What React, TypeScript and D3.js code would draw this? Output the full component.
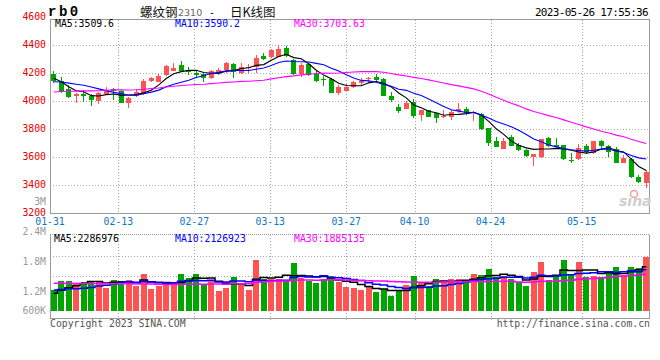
import React from 'react';
import * as d3 from 'd3';

// ---------- data ----------
const dates = [
  '01-31',
  '02-01','02-02','02-03','02-06','02-07','02-08','02-09','02-10','02-13','02-14','02-15','02-16','02-17','02-20','02-21','02-22','02-23','02-24','02-27','02-28',
  '03-01','03-02','03-03','03-06','03-07','03-08','03-09','03-10','03-13','03-14','03-15','03-16','03-17','03-20','03-21','03-22','03-23','03-24','03-27','03-28','03-29','03-30','03-31',
  '04-03','04-04','04-06','04-07','04-10','04-11','04-12','04-13','04-14','04-17','04-18','04-19','04-20','04-21','04-24','04-25','04-26','04-27','04-28',
  '05-04','05-05','05-08','05-09','05-10','05-11','05-12','05-15','05-16','05-17','05-18','05-19','05-22','05-23','05-24','05-25','05-26',
];

const opens = [
  4196, 4149, 4089, 4041, 4053, 4039, 4006, 4051, 4087, 4075,
  3987, 4039, 4053, 4146, 4141, 4189, 4220, 4261, 4225, 4201,
  4194, 4170, 4194, 4225, 4266, 4201, 4237, 4249, 4327, 4316,
  4320, 4380, 4296, 4196, 4268, 4194, 4161, 4159, 4063, 4077,
  4106, 4134, 4163, 4173, 4159, 4039, 3963, 3946, 3999, 3904,
  3939, 3916, 3887, 3891, 3934, 3944, 3925, 3909, 3809, 3718,
  3661, 3744, 3689, 3654, 3606, 3606, 3737, 3689, 3689, 3584,
  3587, 3682, 3634, 3718, 3682, 3659, 3563, 3589, 3459, 3420,
];
const highs = [
  4220, 4173, 4118, 4058, 4082, 4051, 4070, 4104, 4094, 4082,
  4030, 4089, 4161, 4177, 4199, 4261, 4277, 4291, 4249, 4225,
  4206, 4225, 4239, 4280, 4273, 4277, 4268, 4330, 4349, 4373,
  4404, 4396, 4301, 4273, 4273, 4225, 4182, 4166, 4118, 4125,
  4149, 4166, 4177, 4194, 4166, 4066, 3982, 4004, 4016, 3942,
  3942, 3920, 3939, 3939, 3987, 3963, 3929, 3916, 3812, 3749,
  3737, 3761, 3701, 3661, 3628, 3732, 3749, 3737, 3692, 3630,
  3696, 3696, 3720, 3725, 3689, 3673, 3618, 3594, 3475, 3511,
];
const lows = [
  4134, 4059, 4023, 3991, 3999, 3970, 3982, 4046, 4011, 3987,
  3956, 4034, 4046, 4141, 4137, 4184, 4215, 4209, 4189, 4177,
  4141, 4159, 4190, 4201, 4170, 4196, 4206, 4201, 4296, 4309,
  4316, 4316, 4192, 4177, 4182, 4142, 4111, 4060, 4046, 4075,
  4094, 4118, 4130, 4149, 4038, 3999, 3920, 3944, 3880, 3863,
  3887, 3849, 3880, 3868, 3916, 3904, 3863, 3800, 3684, 3675,
  3659, 3680, 3650, 3606, 3537, 3599, 3677, 3675, 3582, 3559,
  3582, 3623, 3625, 3659, 3606, 3560, 3560, 3451, 3420, 3384,
];
const closes = [
  4149, 4070, 4034, 4053, 4041, 4011, 4059, 4082, 4075, 3991,
  4027, 4070, 4146, 4170, 4182, 4254, 4241, 4220, 4213, 4189,
  4170, 4218, 4225, 4277, 4213, 4244, 4244, 4313, 4304, 4368,
  4375, 4325, 4196, 4261, 4189, 4146, 4151, 4063, 4106, 4106,
  4139, 4149, 4166, 4154, 4041, 4011, 3934, 3991, 3899, 3939,
  3891, 3880, 3899, 3927, 3944, 3916, 3927, 3804, 3701, 3677,
  3718, 3684, 3654, 3611, 3625, 3730, 3682, 3677, 3589, 3580,
  3670, 3641, 3718, 3684, 3641, 3563, 3594, 3459, 3423, 3499,
];
// closes before 01-31 (read back from where the MA curves start)
const priorCloses = [
  3960, 3985, 4010, 3990, 4005, 4030, 3995, 3975, 4010, 4030,
  4020, 4045, 4030, 4060, 4050, 4075, 4060, 4100, 4090, 4095,
  4090, 4110, 4130, 4120, 4130, 4195, 4209, 4197, 4080,
];

const volumes = [
  1090, 1560, 1560, 1390, 1490, 1560, 1560, 1200, 1610, 1560,
  1610, 1300, 1920, 1130, 1300, 1460, 1460, 1920, 1720, 1920,
  1400, 1560, 1040, 1200, 1770, 1460, 1090, 2650, 1660, 1660,
  1660, 1610, 2500, 1720, 1540, 1460, 1660, 1820, 1490, 1250,
  1180, 1080, 1280, 970, 1130, 760, 1080, 1340, 1800, 1490,
  1280, 1650, 1490, 1650, 1650, 1490, 1910, 1860, 2170, 1750,
  1800, 1650, 1490, 1280, 2010, 2530, 1600, 1800, 2640, 1860,
  2530, 1750, 1800, 1750, 2010, 2270, 1860, 2270, 2220, 2810,
].map((v) => v * 1000);
// volumes before 01-31 (read back from where the volume MA curves start)
const priorVolumes = [
  1550, 1680, 1620, 1500, 1720, 1580, 1650, 1490, 1610, 1700,
  1560, 1630, 1540, 1680, 1600, 1520, 1660, 1590, 1640, 1570,
  1300, 1200, 1350, 1180, 1205, 800, 850, 880, 905,
].map((v) => v * 1000);

const xTickLabels = ['01-31', '02-13', '02-27', '03-13', '03-27', '04-10', '04-24', '05-15'];
const priceTicks = [4600, 4400, 4200, 4000, 3800, 3600, 3400, 3200];
const volumeTickLabels = ['3M', '2.4M', '1.8M', '1.2M', '600K'];
const priceMaLabels = ['MA5:3509.6', 'MA10:3590.2', 'MA30:3703.63'];
const volumeMaLabels = ['MA5:2286976', 'MA10:2126923', 'MA30:1885135'];
const maPeriods = [5, 10, 30];

// ---------- helpers ----------
function movingAverage(prior: number[], values: number[], n: number): number[] {
  const all = prior.concat(values);
  return values.map((_, i) => {
    const end = prior.length + i + 1;
    return d3.mean(all.slice(end - n, end)) as number;
  });
}

const MONO = "'DejaVu Sans Mono', monospace";
const RED = '#ff5353';
const GREEN = '#00a600';
const MA_COLORS = ['#000000', '#0000ff', '#ff00ff'];
const GRID = '#a8a8a8';
const AXIS = '#9a9a9a';

export default function App() {
  const n = dates.length;
  const L = 50;
  const R = 650;
  const x = d3.scaleBand<number>().domain(d3.range(n)).range([L, R]);
  const xg = d3.scalePoint<number>().domain(d3.range(n)).range([L, R]);
  const cx = (i: number) => (x(i) as number) + x.bandwidth() / 2;

  const yP = d3.scaleLinear().domain([3200, 4600]).range([213.5, 17.5]);
  const vBase = 310.7;
  const yV = d3.scaleLinear().domain([0, 4e6]).range([vBase, vBase - 4 * 19.23]);

  const priceTop = 19.5;
  const priceBottom = yP(3200);
  const volTop = 234.5;
  const volBottom = 318.5;

  const priceMAs = maPeriods.map((p) => movingAverage(priorCloses, closes, p));
  const volMAs = maPeriods.map((p) => movingAverage(priorVolumes, volumes, p));

  const priceLine = d3
    .line<number>()
    .x((_, i) => cx(i))
    .y((v) => yP(v));
  const volLine = d3
    .line<number>()
    .x((_, i) => cx(i))
    .y((v) => yV(v))
    .curve(d3.curveStep);

  const tickIdx = xTickLabels.map((t) => dates.indexOf(t));
  const volGridYs = [1, 2, 3].map((k) => Math.round(314.5 - k * 19.5) + 0.5);

  const up = (i: number) => closes[i] >= opens[i];

  return (
    <svg
      width={660}
      height={360}
      style={{ position: 'absolute', left: 0, top: 0, background: '#fff' }}
      fontFamily={MONO}
    >
      <rect x={0} y={0} width={660} height={360} fill="#fff" />

      {/* header */}
      <text x={48} y={16} fontFamily="'Liberation Mono', monospace" fontWeight="bold" fontSize={14} letterSpacing={2.5} fill="#000">
        rb0
      </text>
      <text x={140} y={17} fontFamily="'Noto Sans CJK SC', sans-serif" fontSize={12.5} fill="#111">
        螺纹钢
      </text>
      <text x={178} y={16} fontFamily="'DejaVu Sans', sans-serif" fontSize={9.5} fill="#666">
        2310
      </text>
      <text x={209} y={16} fontSize={10} fill="#111">
        -
      </text>
      <text x={230} y={17} fontFamily="'Noto Sans CJK SC', sans-serif" fontSize={12.5} fill="#111">
        日K线图
      </text>
      <text x={648} y={15.7} textAnchor="end" fontSize={11} letterSpacing={-0.67} fill="#000">
        2023-05-26 17:55:36
      </text>

      {/* price grid */}
      {priceTicks.slice(1, -1).map((p) => (
        <line key={'hp' + p} x1={L} x2={R} y1={yP(p)} y2={yP(p)} stroke={GRID} strokeDasharray="1 2" shapeRendering="crispEdges" />
      ))}
      {tickIdx.slice(1).map((i) => (
        <g key={'vg' + i}>
          <line x1={Math.round(xg(i) as number) + 0.5} x2={Math.round(xg(i) as number) + 0.5} y1={priceTop} y2={priceBottom} stroke={GRID} strokeDasharray="1 2" shapeRendering="crispEdges" />
          <line x1={Math.round(xg(i) as number) + 0.5} x2={Math.round(xg(i) as number) + 0.5} y1={volTop} y2={321} stroke={GRID} strokeDasharray="1 2" shapeRendering="crispEdges" />
        </g>
      ))}

      {/* price frame */}
      <line x1={L} x2={R} y1={priceTop} y2={priceTop} stroke={AXIS} shapeRendering="crispEdges" />
      <line x1={L + 0.5} x2={L + 0.5} y1={priceTop} y2={priceBottom} stroke={AXIS} shapeRendering="crispEdges" />
      <line x1={R - 0.5} x2={R - 0.5} y1={priceTop} y2={priceBottom} stroke={AXIS} shapeRendering="crispEdges" />
      <line x1={L} x2={R} y1={priceBottom} y2={priceBottom} stroke={AXIS} shapeRendering="crispEdges" />

      {/* watermark */}
      <circle cx={634} cy={194} r={3.5} fill="none" stroke="#f2a0a0" strokeWidth={1.6} />
      <text x={619} y={206} fontFamily="'DejaVu Sans', sans-serif" fontStyle="italic" fontWeight="bold" fontSize={14} fill="#cfcfcf">
        sina
      </text>

      {/* price legend */}
      {priceMaLabels.map((t, k) => (
        <text key={t} x={[55, 175, 294][k]} y={27.3} fontSize={9.8} fill={MA_COLORS[k]}>
          {t}
        </text>
      ))}

      {/* candles */}
      {closes.map((c, i) => {
        const o = opens[i];
        const col = up(i) ? RED : GREEN;
        const xc = Math.floor(cx(i)) + 0.5;
        const top = Math.round(yP(Math.max(o, c)));
        const bot = Math.round(yP(Math.min(o, c)));
        return (
          <g key={'c' + i}>
            <line x1={xc} x2={xc} y1={yP(highs[i])} y2={yP(lows[i])} stroke={col} shapeRendering="crispEdges" />
            <rect x={xc - 2.5} y={top} width={5} height={Math.max(1, bot - top)} fill={col} shapeRendering="crispEdges" />
          </g>
        );
      })}

      {/* price MAs */}
      {priceMAs.map((m, k) => (
        <path key={'pm' + k} d={priceLine(m) as string} fill="none" stroke={MA_COLORS[k]} strokeWidth={1.1} />
      ))}

      {/* price axis labels */}
      {priceTicks.map((p) => (
        <text key={'pt' + p} x={46} y={yP(p) + 2.5} textAnchor="end" fontSize={9.8} fill="#e60000">
          {p}
        </text>
      ))}

      {/* x labels */}
      {tickIdx.map((i, k) => (
        <text key={'xl' + i} x={xg(i) as number} y={225.3} textAnchor="middle" fontSize={9.8} fill="#0a78c8">
          {xTickLabels[k]}
        </text>
      ))}

      {/* volume grid + frame */}
      {volGridYs.map((y) => (
        <line key={'vgh' + y} x1={L} x2={R} y1={y} y2={y} stroke={GRID} strokeDasharray="1 2" shapeRendering="crispEdges" />
      ))}
      <line x1={L} x2={R} y1={volTop} y2={volTop} stroke={AXIS} strokeDasharray="1 1" shapeRendering="crispEdges" />
      <line x1={L + 0.5} x2={L + 0.5} y1={volTop} y2={volBottom} stroke={AXIS} shapeRendering="crispEdges" />
      <line x1={R - 0.5} x2={R - 0.5} y1={volTop} y2={volBottom} stroke={AXIS} shapeRendering="crispEdges" />
      <line x1={L} x2={R} y1={volBottom} y2={volBottom} stroke={AXIS} shapeRendering="crispEdges" />

      {/* volume bars */}
      {volumes.map((v, i) => (
        <rect
          key={'v' + i}
          x={Math.round(cx(i) - 3)}
          y={yV(v)}
          width={6}
          height={yV(0) - yV(v)}
          fill={up(i) ? RED : GREEN}
          shapeRendering="crispEdges"
        />
      ))}

      {/* volume MAs */}
      {volMAs.map((m, k) => (
        <path key={'vm' + k} d={volLine(m) as string} fill="none" stroke={MA_COLORS[k]} strokeWidth={1.5} />
      ))}

      {/* volume legend */}
      {volumeMaLabels.map((t, k) => (
        <text key={t} x={[54, 175, 294][k]} y={242.3} fontSize={9.8} fill={MA_COLORS[k]}>
          {t}
        </text>
      ))}

      {/* volume labels */}
      {volumeTickLabels.map((t, k) => (
        <text key={t} x={46} y={Math.min(201 + k * 30, yV(0)) + 3.5} textAnchor="end" fontSize={9.8} fill="#9a9a9a">
          {t}
        </text>
      ))}

      {/* footer */}
      <text x={50} y={327.3} fontSize={9.8} fill="#555">
        Copyright 2023 SINA.COM
      </text>
      <text x={650} y={327.3} textAnchor="end" fontSize={9.8} fill="#555">
        http://finance.sina.com.cn
      </text>
    </svg>
  );
}
